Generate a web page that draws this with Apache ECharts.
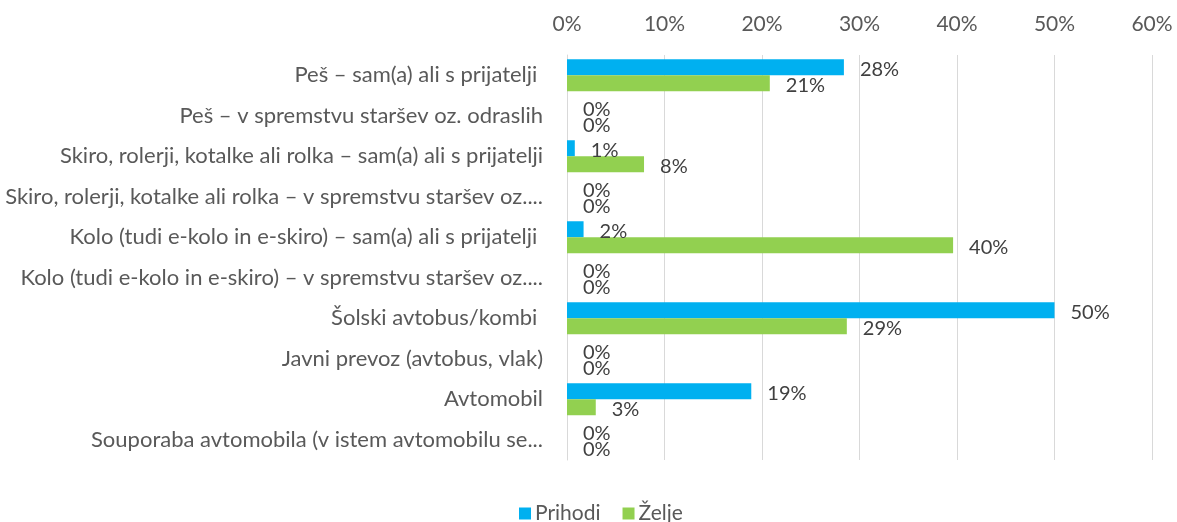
<!DOCTYPE html>
<html>
<head>
<meta charset="utf-8">
<script src="https://cdn.jsdelivr.net/npm/echarts@6/dist/echarts.min.js"></script>
<style>
  html, body { margin: 0; padding: 0; background: #fff; }
  #chart { width: 1177px; height: 522px; }
</style>
</head>
<body>
<div id="chart"></div>
<script>
// categories as shown (long ones truncated in the source picture)
const categories = [
  "Peš – sam(a) ali s prijatelji ",
  "Peš – v spremstvu staršev oz. odraslih",
  "Skiro, rolerji, kotalke ali rolka – sam(a) ali s prijatelji",
  "Skiro, rolerji, kotalke ali rolka – v spremstvu staršev oz....",
  "Kolo (tudi e-kolo in e-skiro) – sam(a) ali s prijatelji ",
  "Kolo (tudi e-kolo in e-skiro) – v spremstvu staršev oz....",
  "Šolski avtobus/kombi ",
  "Javni prevoz (avtobus, vlak)",
  "Avtomobil",
  "Souporaba avtomobila (v istem avtomobilu se..."
];
const seriesNames = ["Prihodi", "Želje"];
const prihodi = [28.4, 0, 0.8, 0, 1.7, 0, 50, 0, 18.9, 0];
const zelje = [20.8, 0, 7.9, 0, 39.6, 0, 28.7, 0, 2.95, 0];
const xMin = 0, xMax = 60, xStep = 10;

const FONT = "Lato";
const chart = echarts.init(document.getElementById("chart"));

function labelOpt() {
  return {
    show: true,
    position: "right",
    distance: 16,
    offset: [0, 2],
    color: "#404040",
    fontFamily: FONT,
    fontSize: 20,
    formatter: (p) => Math.round(p.value) + "%"
  };
}

chart.setOption({
  backgroundColor: "#ffffff",
  animation: false,
  textStyle: { fontFamily: FONT },
  grid: { left: 567, right: 25, top: 55, bottom: 62, containLabel: false },
  legend: {
    data: seriesNames,
    left: 514,
    top: 498,
    itemWidth: 12,
    itemHeight: 12,
    itemGap: 22,
    icon: "rect",
    textStyle: { color: "#595959", fontSize: 21, fontFamily: FONT, padding: [0, 0, 0, -1] }
  },
  xAxis: {
    type: "value",
    position: "top",
    min: xMin,
    max: xMax,
    interval: xStep,
    axisLine: { show: false },
    axisTick: { show: false },
    axisLabel: {
      color: "#595959",
      fontSize: 21,
      fontFamily: FONT,
      margin: 20,
      formatter: (v) => v + "%"
    },
    splitLine: { lineStyle: { color: "#d9d9d9", width: 1 } }
  },
  yAxis: {
    type: "category",
    inverse: true,
    data: categories,
    axisLine: { show: true, lineStyle: { color: "#d9d9d9", width: 1 } },
    axisTick: { show: false },
    axisLabel: {
      color: "#595959",
      fontSize: 22,
      fontFamily: FONT,
      margin: 24
    }
  },
  series: [
    {
      name: seriesNames[0],
      type: "bar",
      data: prihodi,
      barGap: "0%",
      barCategoryGap: "21%",
      itemStyle: { color: "#00b0f0" },
      label: labelOpt()
    },
    {
      name: seriesNames[1],
      type: "bar",
      data: zelje,
      itemStyle: { color: "#92d050" },
      label: labelOpt()
    }
  ]
});
</script>
</body>
</html>
